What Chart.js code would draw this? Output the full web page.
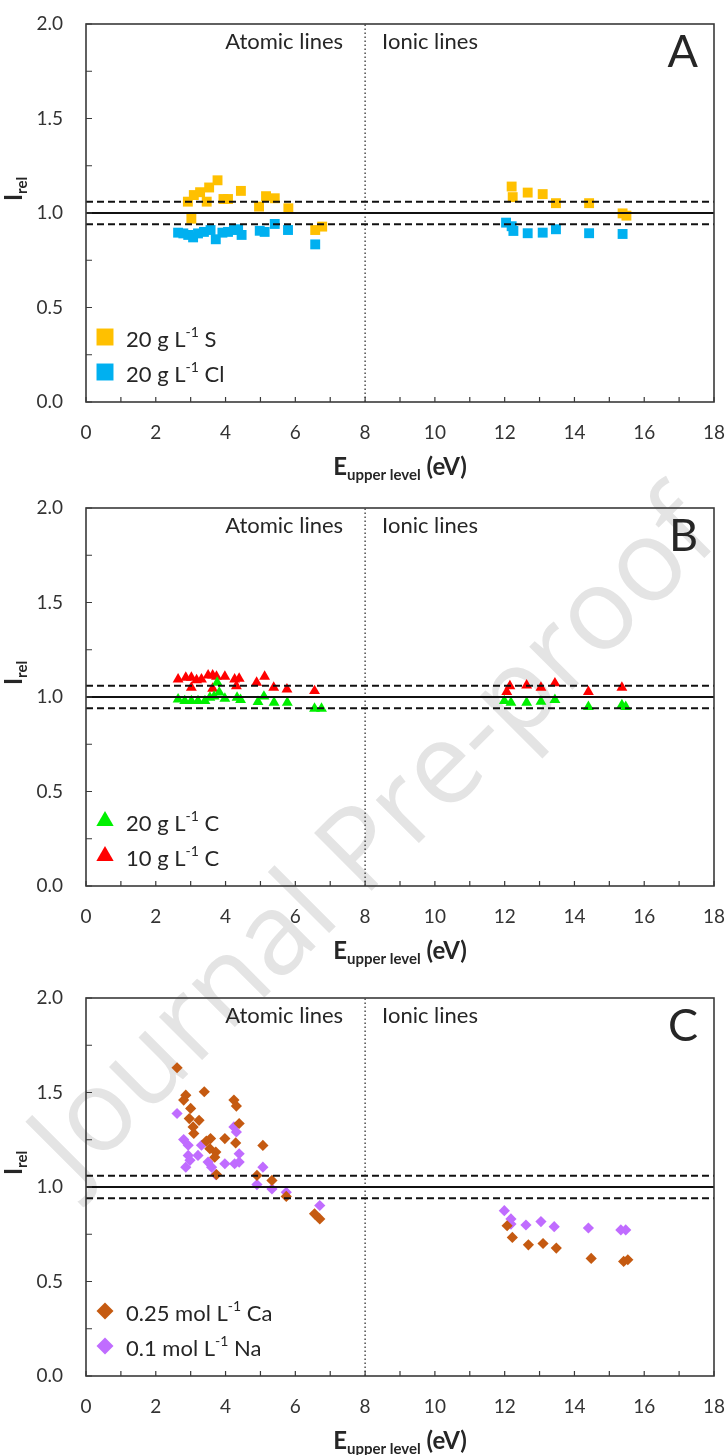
<!DOCTYPE html>
<html>
<head>
<meta charset="utf-8">
<script src="https://cdn.jsdelivr.net/npm/chart.js@4.4.1/dist/chart.umd.min.js"></script>
<style>
  body { margin: 0; background: #fff; width: 727px; height: 1455px; position: relative; overflow: hidden; }
  .panel { position: absolute; left: 0; z-index: 1; }
  #wm {
    position: absolute; left: 368px; top: 832px; z-index: 0;
    transform: translate(-50%, -50%) rotate(-45deg);
    font: 114px 'Open Sans', sans-serif; color: #e4e4e4; white-space: nowrap; line-height: 1;
  }
</style>
</head>
<body>
<div id="wm">Journal Pre-proof</div>
<canvas id="chartA" class="panel" width="727" height="484" style="top:0px"></canvas>
<canvas id="chartB" class="panel" width="727" height="484" style="top:484px"></canvas>
<canvas id="chartC" class="panel" width="727" height="481" style="top:974px"></canvas>
<script>
'use strict';

// --- data ---
// panel A
const sE  = [2.92, 3.02, 3.09, 3.27, 3.46, 3.53, 3.77, 3.94, 4.07, 4.44, 4.96, 5.16, 5.41, 5.80, 6.57, 6.77,
             12.20, 12.23, 12.66, 13.09, 13.47, 14.42, 15.38, 15.49];
const sI  = [1.060, 0.970, 1.095, 1.110, 1.060, 1.135, 1.173, 1.074, 1.074, 1.117, 1.034, 1.089, 1.078, 1.025, 0.910, 0.928,
             1.140, 1.084, 1.108, 1.100, 1.052, 1.052, 0.998, 0.986];
const clE = [2.64, 2.79, 2.93, 3.07, 3.21, 3.38, 3.57, 3.72, 3.91, 4.07, 4.24, 4.36, 4.46, 4.98, 5.12, 5.41, 5.79, 6.57,
             12.04, 12.20, 12.25, 12.66, 13.09, 13.47, 14.42, 15.38];
const clI = [0.896, 0.892, 0.884, 0.871, 0.892, 0.900, 0.910, 0.861, 0.896, 0.900, 0.910, 0.914, 0.884, 0.906, 0.900, 0.942, 0.910, 0.834,
             0.949, 0.930, 0.905, 0.893, 0.896, 0.914, 0.893, 0.889];
// panel B
const c20E = [2.64, 2.83, 3.02, 3.21, 3.41, 3.55, 3.67, 3.76, 3.82, 3.98, 4.33, 4.43, 4.93, 5.10, 5.39, 5.77, 6.55, 6.75,
              11.99, 12.18, 12.63, 13.04, 13.44, 14.40, 15.36, 15.47];
const c20I = [0.988, 0.979, 0.979, 0.979, 0.979, 0.997, 1.003, 1.076, 1.024, 0.992, 0.997, 0.985, 0.974, 1.003, 0.971, 0.971, 0.939, 0.939,
              0.979, 0.971, 0.971, 0.976, 0.985, 0.948, 0.957, 0.948];
const c10E = [2.64, 2.86, 3.02, 3.02, 3.17, 3.31, 3.50, 3.63, 3.74, 3.63, 3.98, 4.26, 4.39, 4.31, 4.89, 5.12, 5.38, 5.76, 6.55,
              12.15, 12.06, 12.63, 13.04, 13.44, 14.40, 15.36];
const c10I = [1.094, 1.103, 1.103, 1.050, 1.090, 1.094, 1.115, 1.115, 1.108, 1.045, 1.108, 1.094, 1.098, 1.058, 1.076, 1.108, 1.050, 1.041, 1.032,
              1.058, 1.027, 1.062, 1.050, 1.073, 1.027, 1.050];
// panel C
const caE = [2.61, 3.39, 2.86, 2.80, 4.24, 4.31, 3.00, 2.96, 3.24, 3.07, 4.39, 3.09, 3.57, 3.98, 3.45, 4.29, 3.55, 3.72, 3.69, 5.07, 3.74, 4.90, 5.33, 5.74, 6.55, 6.70,
             12.07, 12.22, 12.68, 13.10, 13.48, 14.48, 15.41, 15.53];
const caI = [1.631, 1.504, 1.486, 1.460, 1.460, 1.428, 1.416, 1.362, 1.353, 1.318, 1.336, 1.283, 1.256, 1.256, 1.243, 1.233, 1.203, 1.185, 1.158, 1.220, 1.066, 1.061, 1.035, 0.950, 0.858, 0.831,
             0.795, 0.733, 0.694, 0.701, 0.677, 0.622, 0.606, 0.615];
const naE = [2.61, 2.80, 2.93, 2.93, 2.86, 2.98, 3.21, 3.31, 3.50, 3.60, 3.72, 3.98, 4.24, 4.31, 4.26, 4.39, 4.39, 5.07, 4.90, 5.33, 5.74, 6.70,
             11.99, 12.18, 12.18, 12.61, 13.04, 13.42, 14.40, 15.33, 15.47];
const naI = [1.389, 1.251, 1.221, 1.167, 1.105, 1.141, 1.167, 1.221, 1.132, 1.105, 1.066, 1.123, 1.318, 1.291, 1.123, 1.176, 1.132, 1.105, 1.013, 0.990, 0.972, 0.902,
             0.875, 0.831, 0.804, 0.799, 0.817, 0.790, 0.783, 0.773, 0.773];

// reference lines
const refLevel = 1.0;
const bandLevels = [0.94, 1.06];
const splitEnergy = 8;

// axis
const xRange = [0, 18];
const yRange = [0, 2];

// texts
const regionLabels = ['Atomic lines', 'Ionic lines'];
const panelLetters = ['A', 'B', 'C'];
const legendA = [['20 g L', '-1', ' S'], ['20 g L', '-1', ' Cl']];
const legendB = [['20 g L', '-1', ' C'], ['10 g L', '-1', ' C']];
const legendC = [['0.25 mol L', '-1', ' Ca'], ['0.1 mol L', '-1', ' Na']];

const FONT = 'Lato, "Open Sans", sans-serif';
const TEXT = '#262626';

function richText(ctx, parts, x, y, align) {
    // parts: [text, size, weight, dy]
    let total = 0;
    parts.forEach(p => { ctx.font = p[2] + ' ' + p[1] + 'px ' + FONT; total += ctx.measureText(p[0]).width; });
    let cx = align === 'center' ? x - total / 2 : x;
    parts.forEach(p => {
        ctx.font = p[2] + ' ' + p[1] + 'px ' + FONT;
        ctx.fillText(p[0], cx, y + p[3]);
        cx += ctx.measureText(p[0]).width;
    });
}

const decoPlugin = {
    id: 'deco',
    afterDatasetsDraw(chart, args, opts) {
        const ctx = chart.ctx;
        const a = chart.chartArea;
        const xs = chart.scales.x, ys = chart.scales.y;
        ctx.save();
        // frame
        ctx.strokeStyle = '#3a3a3a';
        ctx.lineWidth = 1.6;
        ctx.strokeRect(a.left, a.top, a.right - a.left, a.bottom - a.top);
        // inward tick marks
        ctx.lineWidth = 1.2;
        ctx.beginPath();
        xs.ticks.forEach(t => {
            const px = xs.getPixelForValue(t.value);
            ctx.moveTo(px, a.bottom); ctx.lineTo(px, a.bottom - 5);
        });
        ys.ticks.forEach(t => {
            const py = ys.getPixelForValue(t.value);
            ctx.moveTo(a.left, py); ctx.lineTo(a.left + 6, py);
        });
        ctx.stroke();

        ctx.fillStyle = TEXT;
        ctx.textBaseline = 'middle';
        // region labels
        const sx = xs.getPixelForValue(splitEnergy);
        ctx.font = '22px ' + FONT;
        ctx.textAlign = 'right';
        ctx.fillText(regionLabels[0], sx - 22, a.top + 18);
        ctx.textAlign = 'left';
        ctx.fillText(regionLabels[1], sx + 17, a.top + 18);
        // panel letter
        ctx.font = '45px ' + FONT;
        ctx.textAlign = 'right';
        ctx.fillText(opts.letter, a.right - 16, a.top + 28);

        // legend
        ctx.textAlign = 'left';
        opts.legend.forEach((lab, i) => {
            const ly = a.bottom - 65 + i * 35;
            const ds = chart.data.datasets.find(d => d.legendIndex === i);
            ctx.fillStyle = ds.backgroundColor;
            Chart.helpers.drawPoint(ctx, { pointStyle: ds.pointStyle, radius: ds.legendRadius, rotation: 0, borderWidth: 0 }, a.left + 19, ly);
            ctx.fillStyle = TEXT;
            richText(ctx, [[lab[0], 22, 'normal', 3], [lab[1], 14, 'normal', -5], [lab[2], 22, 'normal', 3]], a.left + 40, ly, 'left');
        });

        // x title
        ctx.textBaseline = 'alphabetic';
        const cx = (a.left + a.right) / 2;
        richText(ctx, [['E', 24, 'bold', 0], ['upper level', 15, 'bold', 5], [' (eV)', 24, 'bold', 0]], cx, a.bottom + 73, 'center');
        // y title
        ctx.translate(22, (a.top + a.bottom) / 2 - 24);
        ctx.rotate(-Math.PI / 2);
        richText(ctx, [['I', 24, 'bold', 0], ['rel', 15, 'bold', 5]], 0, 0, 'center');
        ctx.restore();
    }
};

function lineSet(pts, dash, width) {
    return {
        type: 'line', data: pts, borderColor: '#111', borderWidth: width, borderDash: dash,
        pointRadius: 0, fill: false, tension: 0, order: 0
    };
}

function buildPanel(id, series, letter, legend) {
    const canvas = document.getElementById(id);
    const H = canvas.height;
    const datasets = [
        lineSet([{ x: xRange[0], y: refLevel }, { x: xRange[1], y: refLevel }], [], 2),
        lineSet([{ x: xRange[0], y: bandLevels[0] }, { x: xRange[1], y: bandLevels[0] }], [7, 4], 2),
        lineSet([{ x: xRange[0], y: bandLevels[1] }, { x: xRange[1], y: bandLevels[1] }], [7, 4], 2),
        Object.assign(lineSet([{ x: splitEnergy, y: yRange[0] }, { x: splitEnergy, y: yRange[1] }], [1.5, 2.5], 1.3), { borderColor: '#333' })
    ];
    series.forEach((s, i) => {
        datasets.push({
            type: 'scatter',
            data: s.e.map((e, k) => ({ x: e, y: s.v[k] })),
            backgroundColor: s.color, borderWidth: 0,
            pointStyle: s.shape, pointRadius: s.r, pointHoverRadius: s.r,
            legendIndex: i, legendRadius: s.lr, order: 1 + i
        });
    });
    new Chart(canvas, {
        type: 'scatter',
        data: { datasets },
        options: {
            responsive: false,
            animation: false,
            events: [],
            layout: { padding: { top: 24, right: 13, left: 0, bottom: 0 } },
            plugins: {
                legend: { display: false },
                tooltip: { enabled: false },
                deco: { letter, legend }
            },
            scales: {
                x: {
                    type: 'linear', min: xRange[0], max: xRange[1],
                    grid: { display: false, drawTicks: false },
                    border: { display: false },
                    ticks: {
                        stepSize: 1, autoSkip: false, maxRotation: 0, padding: 19,
                        color: '#333', font: { family: FONT, size: 19 },
                        callback: v => (v % 2 === 0 ? String(v) : '')
                    },
                    afterFit: s => { s.height = H - 24 - 378; s.paddingLeft = 0; s.paddingRight = 0; }
                },
                y: {
                    type: 'linear', min: yRange[0], max: yRange[1],
                    grid: { display: false, drawTicks: false },
                    border: { display: false },
                    ticks: {
                        stepSize: 0.25, autoSkip: false, padding: 23,
                        color: '#333', font: { family: FONT, size: 19 },
                        callback: v => (Math.abs(v * 2 - Math.round(v * 2)) < 1e-9 ? v.toFixed(1) : '')
                    },
                    afterFit: s => { s.width = 86; s.paddingTop = 0; s.paddingBottom = 0; }
                }
            }
        },
        plugins: [decoPlugin]
    });
}

buildPanel('chartA', [
    { e: sE, v: sI, color: '#FFC000', shape: 'rect', r: 7, lr: 12 },
    { e: clE, v: clI, color: '#00B0F0', shape: 'rect', r: 7, lr: 12 }
], panelLetters[0], legendA);

buildPanel('chartB', [
    { e: c20E, v: c20I, color: '#00F000', shape: 'triangle', r: 6.3, lr: 10 },
    { e: c10E, v: c10I, color: '#FF0000', shape: 'triangle', r: 6.3, lr: 10 }
], panelLetters[1], legendB);

buildPanel('chartC', [
    { e: caE, v: caI, color: '#C55A11', shape: 'rectRot', r: 5.6, lr: 8.5 },
    { e: naE, v: naI, color: '#C06CFF', shape: 'rectRot', r: 5.6, lr: 8.5 }
], panelLetters[2], legendC);
</script>
</body>
</html>
